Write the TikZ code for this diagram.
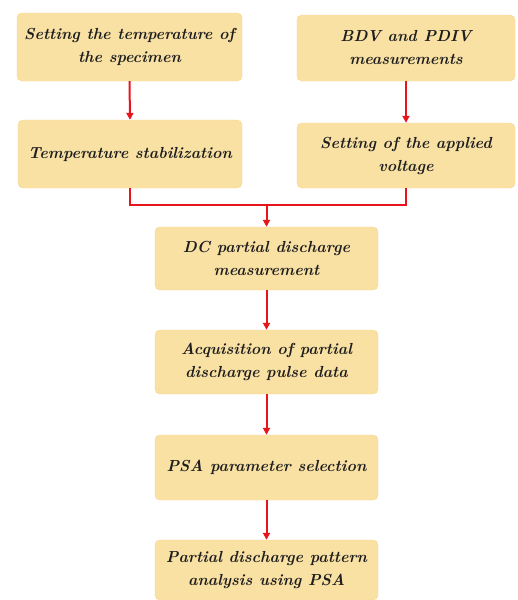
\documentclass[tikz,border=0pt]{standalone}
\usetikzlibrary{arrows.meta}
\definecolor{boxfill}{HTML}{F9E1A4}
\definecolor{arrred}{HTML}{E8141B}
\definecolor{txt}{HTML}{1E1E1E}
\begin{document}
\begin{tikzpicture}[x=1pt,y=-1pt,
  box/.style={fill=boxfill, draw=boxfill!85!orange, line width=0.4pt, rounded corners=5pt, align=center,
    text=txt, font=\fontsize{16}{23}\selectfont\bfseries\itshape, inner sep=2pt},
  link/.style={draw=arrred, line width=2pt},
  arr/.style={link, -{Triangle[length=7pt,width=7pt]}}]
\useasboundingbox (0,0) rectangle (517,600);
\node[box, minimum width=225pt, minimum height=68pt] (b1) at (129.5,47) {Setting the temperature of\\the specimen};
\node[box, minimum width=218pt, minimum height=66pt] (b2) at (406,48) {BDV and PDIV\\measurements};
\node[box, minimum width=224pt, minimum height=68pt] (b3) at (130,154) {Temperature stabilization};
\node[box, minimum width=218pt, minimum height=65pt] (b4) at (406,155.5) {Setting of the applied\\voltage};
\node[box, minimum width=223pt, minimum height=63pt] (b5) at (266.5,258.5) {DC partial discharge\\measurement};
\node[box, minimum width=223pt, minimum height=64pt] (b6) at (266.5,362) {Acquisition of partial\\discharge pulse data};
\node[box, minimum width=223pt, minimum height=65pt] (b7) at (266.5,467.5) {PSA parameter selection};
\node[box, minimum width=223pt, minimum height=60pt] (b8) at (266.5,570) {Partial discharge pattern\\analysis using PSA};
\coordinate (m) at (266.5,205);
\draw[arr] (b1.south) -- (b3.north);
\draw[arr] (b2.south) -- (b4.north);
\draw[link] (b3.south) |- (m) -| (b4.south);
\draw[arr] (m) -- (b5.north);
\draw[arr] (b5.south) -- (b6.north);
\draw[arr] (b6.south) -- (b7.north);
\draw[arr] (b7.south) -- (b8.north);
\end{tikzpicture}
\end{document}
